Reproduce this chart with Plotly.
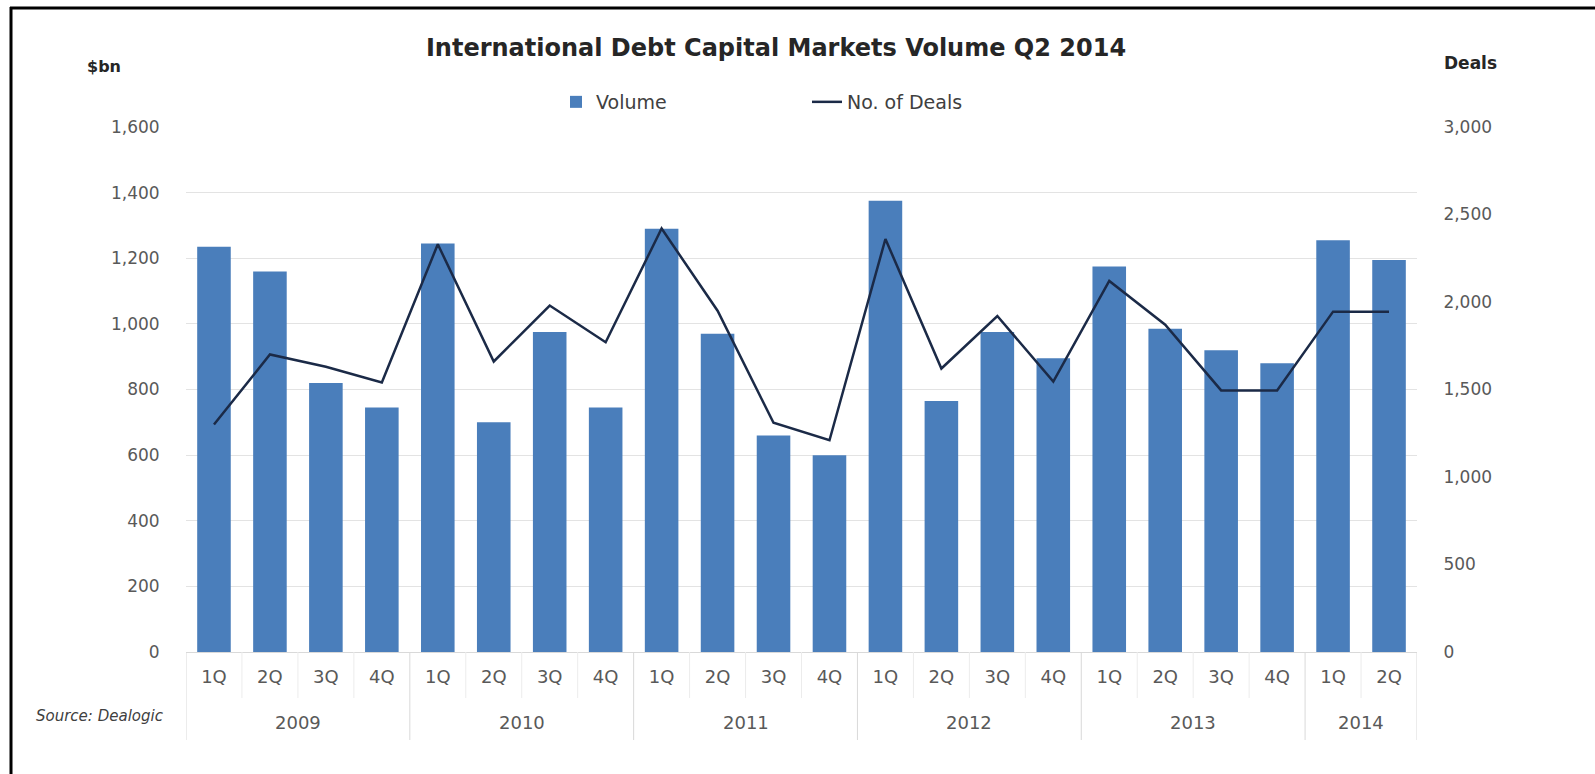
import plotly.graph_objects as go

# ---- data ----
years = ["2009"] * 4 + ["2010"] * 4 + ["2011"] * 4 + ["2012"] * 4 + ["2013"] * 4 + ["2014"] * 2
quarters = ["1Q", "2Q", "3Q", "4Q"] * 5 + ["1Q", "2Q"]
volume_bn = [1235, 1160, 820, 745,
             1245, 700, 975, 745,
             1290, 970, 660, 600,
             1375, 765, 975, 895,
             1175, 985, 920, 880,
             1255, 1195]
num_deals = [1300, 1700, 1630, 1540,
             2330, 1660, 1980, 1770,
             2420, 1950, 1310, 1210,
             2360, 1620, 1920, 1545,
             2120, 1870, 1495, 1495,
             1945, 1945]

W, H = 1595, 774
L, R, T, B = 186, 1417, 127, 652  # plot area in pixels


def px(xp):
    return (xp - L) / (R - L)


def py(yp):
    return (B - yp) / (B - T)


idx = list(range(len(quarters)))
TICK = dict(family="DejaVu Sans", size=17, color="#595959")
CAT = dict(family="DejaVu Sans", size=18, color="#595959")

fig = go.Figure()
fig.add_trace(go.Bar(
    x=idx, y=volume_bn, name="Volume",
    marker=dict(color="#4a7ebb", line=dict(width=0)),
))
fig.add_trace(go.Scatter(
    x=idx, y=num_deals, name="No. of Deals", yaxis="y2",
    mode="lines", line=dict(color="#1b2a47", width=2.5),
))

fig.update_layout(
    width=W, height=H,
    margin=dict(l=L, r=W - R, t=T, b=H - B),
    paper_bgcolor="white", plot_bgcolor="white",
    bargap=0.4,
    showlegend=True,
    legend=dict(
        orientation="h", x=px(556), xanchor="left", y=py(102), yanchor="middle",
        font=dict(family="DejaVu Sans", size=19, color="#404040"),
        entrywidth=206, entrywidthmode="pixels",
        bgcolor="rgba(0,0,0,0)",
    ),
    title=dict(
        text="<b>International Debt Capital Markets Volume Q2 2014</b>",
        x=776 / W, xanchor="center", y=1 - 48 / H, yanchor="middle",
        font=dict(family="DejaVu Sans", size=24, color="#262626"),
    ),
    xaxis=dict(
        range=[-0.5, len(idx) - 0.5],
        tickmode="array", tickvals=idx, ticktext=quarters,
        showgrid=False, zeroline=False,
        showline=True, linecolor="#d9d9d9", linewidth=1,
        ticks="", ticklabelstandoff=8,
        tickfont=CAT,
    ),
    yaxis=dict(
        range=[0, 1600], dtick=200, tickformat=",",
        showgrid=True, gridcolor="#e3e3e3", gridwidth=1,
        zeroline=False, showline=False,
        ticks="outside", ticklen=22, tickcolor="rgba(0,0,0,0)",
        tickfont=TICK,
    ),
    yaxis2=dict(
        range=[0, 3000], dtick=500, tickformat=",",
        overlaying="y", side="right",
        showgrid=False, zeroline=False, showline=False,
        ticks="outside", ticklen=22, tickcolor="rgba(0,0,0,0)",
        tickfont=TICK,
    ),
)

# category-axis dividers and year labels, computed from the data lists
for i in range(len(idx) + 1):
    edge = i == 0 or i == len(idx) or years[i] != years[i - 1]
    fig.add_shape(type="line", xref="x", yref="paper",
                  x0=i - 0.5, x1=i - 0.5, y0=0, y1=py(740 if edge else 698),
                  line=dict(color="#d9d9d9" if edge else "#ececec", width=1))

year_names = list(dict.fromkeys(years))
for yname in year_names:
    pos = [i for i, y in enumerate(years) if y == yname]
    fig.add_annotation(text=yname, xref="x", yref="paper",
                       x=sum(pos) / len(pos), y=py(722), xanchor="center", yanchor="middle",
                       showarrow=False, font=CAT)

fig.add_annotation(text="<b>$bn</b>", xref="paper", yref="paper",
                   x=px(85), y=py(67), xanchor="left", yanchor="middle",
                   showarrow=False, font=dict(family="DejaVu Sans", size=16, color="#262626"))
fig.add_annotation(text="<b>Deals</b>", xref="paper", yref="paper",
                   x=px(1442), y=py(63), xanchor="left", yanchor="middle",
                   showarrow=False, font=dict(family="DejaVu Sans", size=17, color="#262626"))
fig.add_annotation(text="<i>Source: Dealogic</i>", xref="paper", yref="paper",
                   x=px(34), y=py(716), xanchor="left", yanchor="middle",
                   showarrow=False, font=dict(family="DejaVu Sans", size=15, color="#404040"))

# frame (top and left edges)
fig.add_shape(type="line", xref="paper", yref="paper",
              x0=px(10), x1=px(W + 5), y0=py(8), y1=py(8),
              line=dict(color="black", width=3))
fig.add_shape(type="line", xref="paper", yref="paper",
              x0=px(11), x1=px(11), y0=py(7), y1=py(H + 5),
              line=dict(color="black", width=3))

fig.write_html("out.html")
